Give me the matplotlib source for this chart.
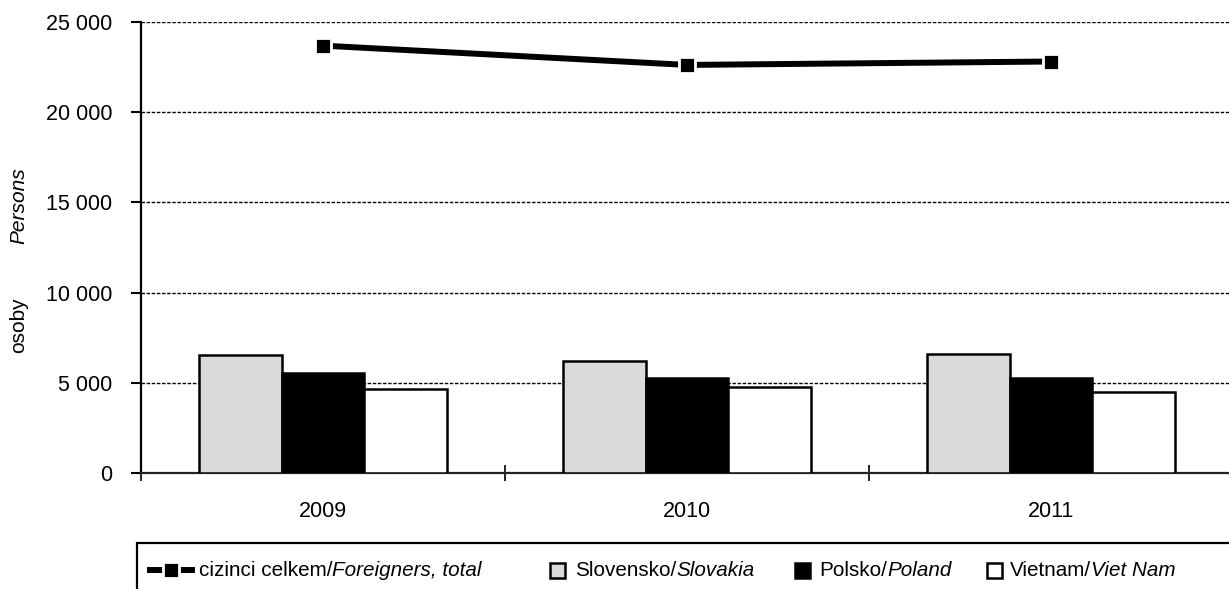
import matplotlib
matplotlib.use("Agg")
import matplotlib.pyplot as plt
import numpy as np
from matplotlib.lines import Line2D
from matplotlib.patches import Rectangle

years = ["2009", "2010", "2011"]
slovakia = [6540, 6210, 6600]
poland = [5530, 5250, 5290]
vietnam = [4640, 4750, 4510]
foreigners_total = [23690, 22620, 22810]
yticks = [0, 5000, 10000, 15000, 20000, 25000]
ytick_labels = ["0", "5 000", "10 000", "15 000", "20 000", "25 000"]

W, H = 1229, 589
plt.rcParams['font.family'] = ['Liberation Sans', 'DejaVu Sans']
FS_TICK = 15.5
FS_LEG = 14.9
FS_TITLE = 15

fig = plt.figure(figsize=(W / 100, H / 100), dpi=100)

def fx(px):
    return px / W

def fy(py):
    return 1 - py / H

ax_left, ax_right, ax_top, ax_bottom = 141, 1233, 22, 473
ax = fig.add_axes([fx(ax_left), fy(ax_bottom), fx(ax_right - ax_left), (ax_bottom - ax_top) / H])

x = np.arange(len(years))
bw = 0.228
ax.bar(x - bw, slovakia, bw, color="#dadada", edgecolor="black", linewidth=1.8, zorder=3)
ax.bar(x, poland, bw, color="black", edgecolor="black", linewidth=1.8, zorder=3)
ax.bar(x + bw, vietnam, bw, color="white", edgecolor="black", linewidth=1.8, zorder=3)
ax.plot(x, foreigners_total, color="black", linewidth=4.3, marker="s", markersize=11,
        markerfacecolor="black", markeredgecolor="white", markeredgewidth=2, zorder=4,
        clip_on=False)

ax.set_xlim(-0.5, 2.5)
ax.set_ylim(0, 25000)
ax.set_yticks(yticks)
ax.set_yticklabels(ytick_labels, fontsize=FS_TICK)
ax.tick_params(axis="y", direction="out", length=7, width=1.5, pad=13.5)
ax.set_xticks(x)
ax.set_xticklabels(years, fontsize=FS_TICK)
ax.tick_params(axis="x", which="major", length=0, pad=20)
ax.set_xticks([-0.5, 0.5, 1.5], minor=True)
ax.tick_params(axis="x", which="minor", direction="inout", length=12, width=1.2)

for yv in yticks[1:]:
    ax.axhline(yv, color="black", linewidth=1.0, linestyle=(0, (2.5, 1.2)), zorder=1)

for s in ["top", "right"]:
    ax.spines[s].set_visible(False)
ax.spines["left"].set_linewidth(1.6)
ax.spines["bottom"].set_linewidth(1.6)
ax.spines["bottom"].set_color("#222222")

# y-axis titles
fig.text(fx(19), fy(325), "osoby", rotation=90, ha="center", va="center", fontsize=FS_TITLE)
fig.text(fx(19), fy(206), "Persons", rotation=90, ha="center", va="center", fontsize=FS_TITLE,
         style="italic")

# legend box
fig.patches.append(Rectangle((fx(137), fy(H + 20)), fx(W + 20 - 137), (H + 20 - 543) / H,
                             transform=fig.transFigure, facecolor="none", edgecolor="black",
                             linewidth=1.6))

ly = 570
fig.lines.append(Line2D([fx(150), fx(192)], [fy(ly), fy(ly)], transform=fig.transFigure,
                        color="black", linewidth=4.3))
fig.lines.append(Line2D([fx(171)], [fy(ly)], transform=fig.transFigure, marker="s",
                        markersize=11, markerfacecolor="black", markeredgecolor="white",
                        markeredgewidth=2, linestyle="none"))

def box(x0, color):
    s = 15
    fig.patches.append(Rectangle((fx(x0), fy(ly + s / 2)), s / W, s / H, transform=fig.transFigure,
                                 facecolor=color, edgecolor="black", linewidth=1.8))

box(550, "#dadada")
box(795, "black")
box(987, "white")

renderer = fig.canvas.get_renderer()

def two_part(x0, a, b):
    t1 = fig.text(fx(x0), fy(ly), a, ha="left", va="center", fontsize=FS_LEG)
    bb = t1.get_window_extent(renderer=renderer)
    fig.text(bb.x1 / W, fy(ly), b, ha="left", va="center", fontsize=FS_LEG, style="italic")

two_part(199, "cizinci celkem/", "Foreigners, total")
two_part(575, "Slovensko/", "Slovakia")
two_part(819, "Polsko/", "Poland")
two_part(1010, "Vietnam/", "Viet Nam")

fig.savefig("out.png", dpi=100)
